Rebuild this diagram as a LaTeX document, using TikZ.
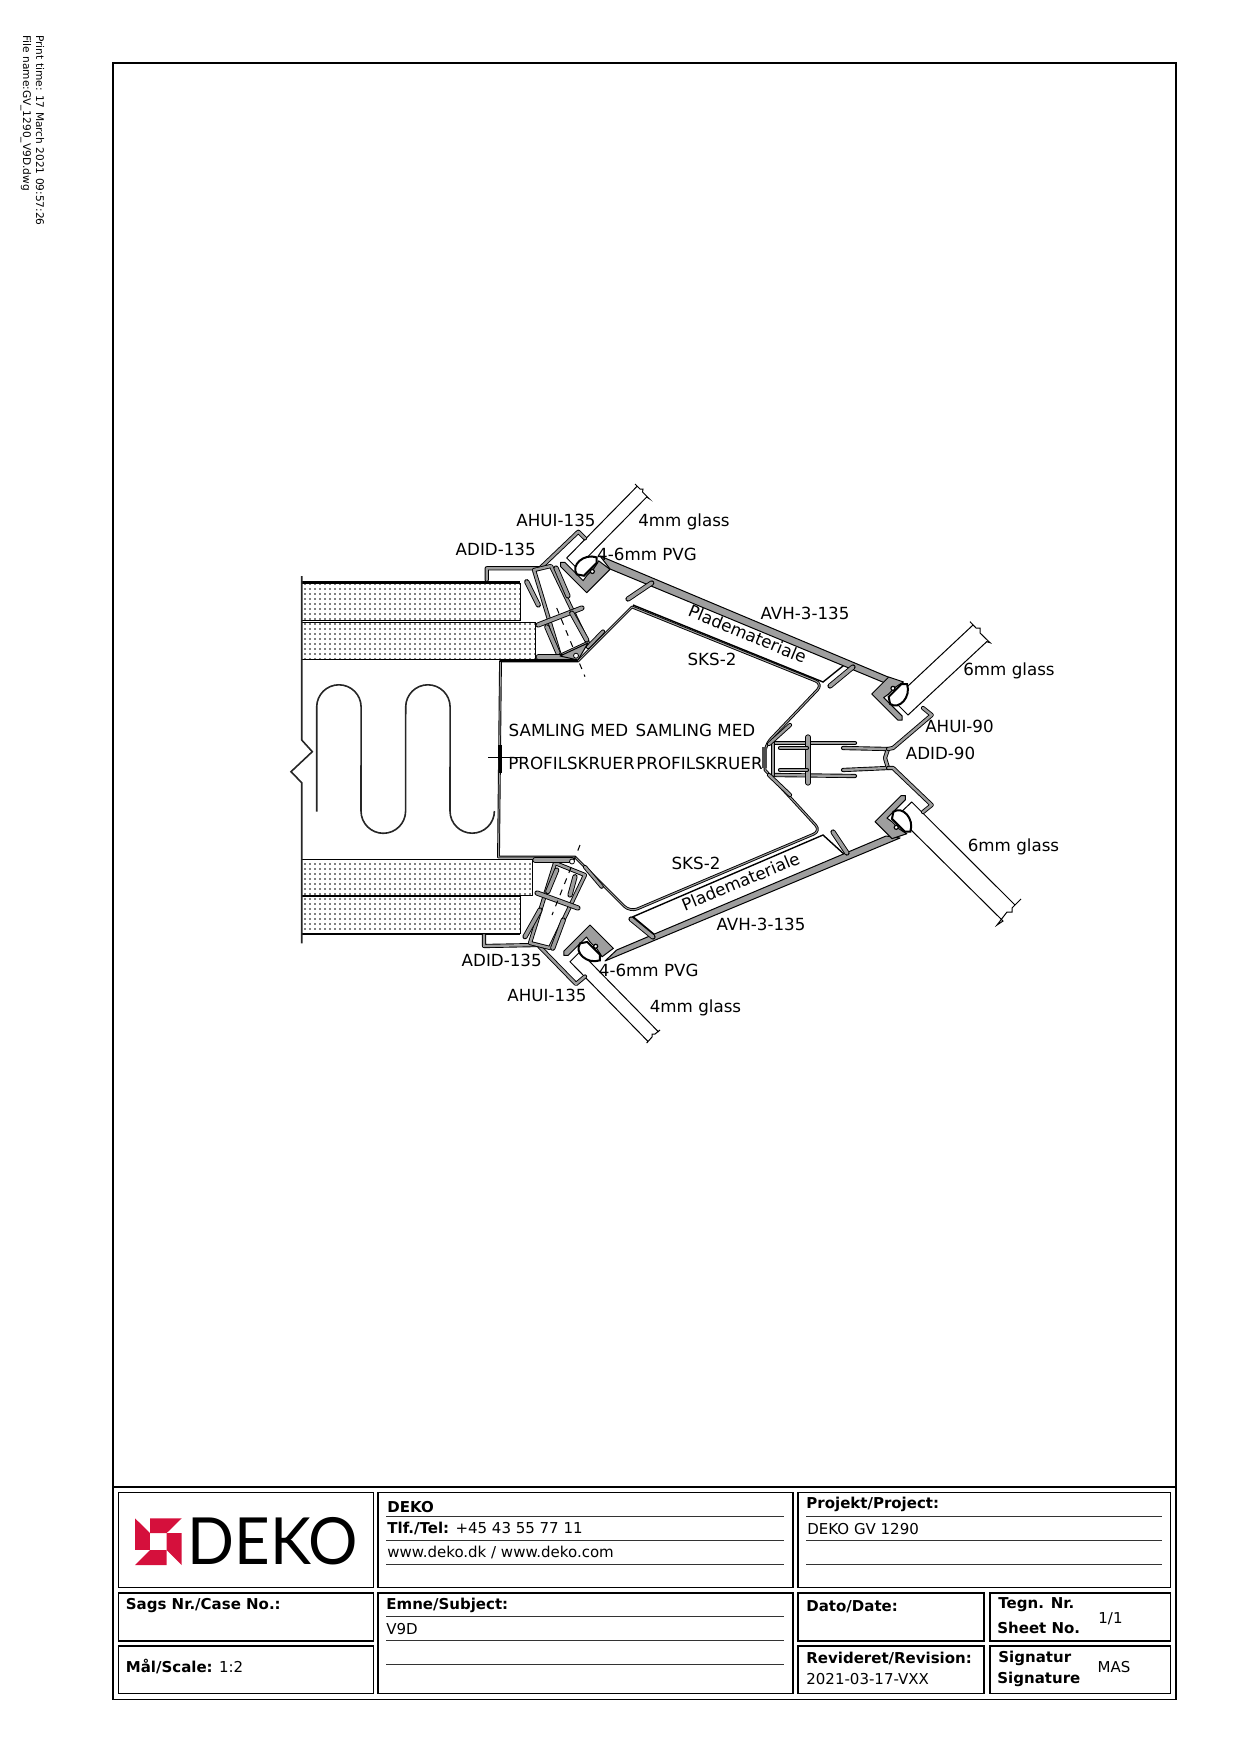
\documentclass[tikz,border=0pt]{standalone}
\usepackage{fontspec}
\setmainfont{DejaVu Sans}
\newfontfamily\logofont{Lato}
\usetikzlibrary{patterns.meta}
\definecolor{profgray}{gray}{0.62}
\definecolor{dekored}{RGB}{213,16,60}
\tikzset{
  lbl/.style={inner sep=0pt,font=\fontsize{8.35}{10}\selectfont},
  ttl/.style={inner sep=0pt,anchor=west,font=\fontsize{7.5}{9}\selectfont},
  ttb/.style={inner sep=0pt,anchor=west,font=\fontsize{7.5}{9}\selectfont\bfseries},
  margin/.style={inner sep=0pt,anchor=west,rotate=-90,font=\fontsize{5.3}{6}\selectfont},
  box/.style={draw=black,line width=0.9pt},
  rule/.style={draw=black!80,line width=0.5pt},
  profile/.style={draw=black,fill=profgray,line width=0.5pt,line join=round},
  profline/.style={draw=black,line width=0.45pt,double=profgray,double distance=1.2pt,line join=round,line cap=round},
  fin/.style={draw=black,line width=0.45pt,double=profgray,double distance=1.7pt,line cap=round},
  sheet/.style={draw=black,line width=0.45pt,double=profgray,double distance=0.5pt,line join=round},
  glass/.style={draw=black,line width=0.5pt,fill=white},
  board/.style={draw=black,line width=0.5pt,pattern={Dots[radius=0.4pt,distance=2.5pt]}},
  pics/glasshook/.style={code={
    \filldraw[profile] (0,0) -- (#1,0) -- (31,-14) -- (27,-13) -- (22,-12) -- (12,-12) -- (6,-11) -- (6,-37) -- (3,-40) -- (0,-37) -- cycle;
    \filldraw[draw=black,fill=white,line width=1pt] (6,-20) .. controls (8,-31) and (26,-30) .. (32,-18) -- (28,-14) -- (10,-14) -- cycle;
    \filldraw[draw=black,fill=white,line width=0.6pt] (19,-11) circle (2);
  }}
}
\begin{document}
\begin{tikzpicture}[x=0.5pt,y=-0.5pt]
\useasboundingbox (0,0) rectangle (1240,1754);

% sheet frame
\draw[box] (113,63) rectangle (1176,1699.5);
\draw[box] (113,1487) -- (1176,1487);
\node[margin] (printtime) at (40,35) {Print time: 17 March 2021 09:57:26};
\node[margin] (filename) at (26,35) {File name:GV\_1290\_V9D.dwg};

% wall
\draw[board] (301.7,583) rectangle (520,620.5);
\draw[board] (301.7,622.5) rectangle (535,659.5);
\draw[board] (301.7,859) rectangle (532.7,895.5);
\draw[board] (301.7,896.5) rectangle (520,933);
\draw[line width=1.3pt] (301.7,582.5) -- (520,582.5);
\draw[line width=1.3pt] (301.7,934) -- (520,934);
\draw[line width=0.8pt,black!85] (301.7,576) -- (301.7,740) -- (312.3,751.7) -- (291,771.7) -- (301.7,782.7) -- (301.7,943.3);
\draw[line width=0.8pt,black!85] (316.7,811.7) -- (316.7,707) arc[start angle=180,end angle=360,radius=22.2] -- (361,811) arc[start angle=180,end angle=0,radius=22.3] -- (405.7,707) arc[start angle=180,end angle=360,radius=22.2] -- (450,811) arc[start angle=180,end angle=0,radius=22.2];

% sks sheet
\draw[sheet] (500.5,661) -- (578,661) -- (632,607) [rounded corners=4pt] -- (823,684) -- (765,745) [sharp corners] -- (765,770) [rounded corners=4pt] -- (821,831) -- (630,912) [sharp corners] -- (575,857) -- (498.5,857) -- cycle;
\draw[line width=1.3pt] (500,660.7) -- (578,660.7);
\draw[line width=0.5pt] (488,757) -- (527,757);
\draw[line width=1.5pt] (500,745) -- (500,772.7);
\fill[black!70] (762,747) rectangle (767,768);

% plates
\draw[line width=0.7pt] (650,583) -- (846.7,663) -- (823,682) -- (633,605);
\draw[line width=0.7pt] (633,916.7) -- (655,935) -- (845,855) -- (823,835) -- cycle;

% glazing bars
\filldraw[profile] (600,556) -- (900,682) -- (885,683) -- (610,569) -- cycle;
\filldraw[profile] (616.7,950) -- (886,836) -- (900,838) -- (605,961) -- cycle;
\draw[fin] (651.7,583) -- (628,599);
\draw[fin] (853,667) -- (830,686);
\draw[fin] (653,937) -- (631,919);
\draw[fin] (847,853) -- (833,832);

% glass panes
\draw[glass] (635,484) -- (640,489) -- (643,489) -- (642.5,492) -- (649,498.5) -- (646.7,497) -- (576.7,568) -- (566.7,558) -- (636.7,486.7);
\draw[glass] (970,621.7) -- (976,628) -- (980,628) -- (980,633) -- (990,642.7) -- (986.7,641.7) -- (908,715) -- (893,700) -- (973,625);
\draw[glass] (646.7,1043) -- (652,1037) -- (652,1034) -- (655,1034) -- (660,1030) -- (658.3,1031.7) -- (580,951.7) -- (570,961.7) -- (648.3,1041.7);
\draw[glass] (1021,899) -- (1012,908) -- (1012,912) -- (1007,912) -- (997,925) -- (1003,921) -- (897,816) -- (911.7,802) -- (1015,905);

% gaskets
\pic[shift={(586.7,592.7)},rotate=45] {glasshook=33};
\pic[shift={(871.7,694)},rotate=45,yscale=-1] {glasshook=24};
\pic[shift={(590,925)},rotate=-45,yscale=-1] {glasshook=33};
\pic[shift={(875,821.7)},rotate=-45] {glasshook=24};

% frame 135 top
\draw[profline] (486.7,580) -- (486.7,568.3) -- (540,568.3) -- (578.3,531.7) -- (585,538.3);
\draw[profline] (534,570) -- (560,656) -- (588,643) -- (551,566) -- cycle;
\draw[fin] (538,625) -- (582,608);
\draw[fin] (526.7,581.7) -- (538.3,605);
\draw[fin] (546.7,626.7) -- (558,653);
\draw[fin] (556,568) -- (568,596);
\draw[fin] (571.7,613) -- (586.7,640);
\draw[line width=0.5pt,dashed] (556.7,608) -- (585,676.7);
\draw[fin] (538.3,657) -- (572,657);
\filldraw[profile] (560,656) -- (588,643) -- (578,660) -- cycle;
\filldraw[draw=black,fill=white,line width=0.4pt] (576,655.7) circle (2.5);
\draw[profline] (588,647) -- (603,631.5);

% frame 135 bottom
\draw[profline] (484,935) -- (484,946) -- (538,945) -- (576,984) -- (585,976.5);
\draw[profline] (555,863) -- (530,943) -- (550,948) -- (585,875) -- cycle;
\draw[fin] (537,893) -- (578,908);
\draw[fin] (556.7,870) -- (547.7,891.7);
\draw[fin] (540,910) -- (525,936.7);
\draw[fin] (575,876.7) -- (570,895);
\draw[fin] (563.3,920) -- (552.7,948.3);
\draw[line width=0.5pt,dashed] (580,845) -- (552,915);
\draw[fin] (535,860) -- (572,860);
\filldraw[draw=black,fill=white,line width=0.4pt] (572,861.5) circle (2.5);
\draw[profline] (585,867) -- (601.7,886.7);

% frame 90
\draw[profline] (773,743) -- (855,743);
\draw[profline] (773,775) -- (855,776);
\draw[profline] (773,743) -- (773,775);
\draw[fin] (808,737) -- (808,783);
\draw[profline] (780,748) -- (807,748);
\draw[profline] (780,770) -- (807,770);
\draw[profline] (843,748) -- (888,749) -- (885,758) -- (888,768) -- (843,770);
\draw[profline] (888,749) -- (893,748) -- (931.7,715) -- (923,708);
\draw[profline] (888,768) -- (893,768) -- (931.7,805) -- (923,812);
\draw[profline] (769,744) -- (790,725);
\draw[profline] (769,775) -- (790,795);

% labels
\node[lbl] (ahuitop) at (556,520) {AHUI-135};
\node[lbl] (adidtop) at (495.7,549) {ADID-135};
\node[lbl] (glasstop) at (684,522) {4mm glass};
\node[lbl] (pvgtop) at (647,554) {4-6mm PVG};
\node[lbl] (avhtop) at (805,613) {AVH-3-135};
\node[lbl,rotate=-22.5] (platetop) at (747.5,634) {Plademateriale};
\node[lbl] (skstop) at (712,659) {SKS-2};
\node[lbl] (samleft) at (568.5,730.5) {SAMLING MED};
\node[lbl] (samright) at (695.5,730.5) {SAMLING MED};
\node[lbl] (profleft) at (571.5,763) {PROFILSKRUER};
\node[lbl] (profright) at (699.5,763) {PROFILSKRUER};
\node[lbl] (glassup) at (1009,671) {6mm glass};
\node[lbl] (ahuiright) at (959.5,726) {AHUI-90};
\node[lbl] (adidright) at (940.5,753) {ADID-90};
\node[lbl] (glassdown) at (1013.5,847) {6mm glass};
\node[lbl] (avhbot) at (761,924) {AVH-3-135};
\node[lbl,rotate=22.5] (platebot) at (740.6,881.5) {Plademateriale};
\node[lbl] (sksbot) at (696,863.5) {SKS-2};
\node[lbl] (adidbot) at (501.7,960) {ADID-135};
\node[lbl] (ahuibot) at (547,995) {AHUI-135};
\node[lbl] (pvgbot) at (648.7,970) {4-6mm PVG};
\node[lbl] (glassbot) at (695.5,1008) {4mm glass};

% title block
\draw[box] (118.5,1492.5) rectangle (373.5,1587.5);
\draw[box] (378,1492.5) rectangle (793,1587.5);
\draw[box] (797.7,1492.5) rectangle (1170.5,1587.5);
\draw[box] (118.5,1593) rectangle (373.5,1640.7);
\draw[box] (118.5,1646) rectangle (373.5,1693.5);
\draw[box] (378,1593) rectangle (793,1693.5);
\draw[box] (797.7,1593) rectangle (984,1640.7);
\draw[box] (990,1593) rectangle (1170.5,1640.7);
\draw[box] (797.7,1646) rectangle (984,1693.5);
\draw[box] (990,1646) rectangle (1170.5,1693.5);
\foreach \yline in {1516,1540,1564} {
  \draw[rule] (386,\yline) -- (784,\yline);
  \draw[rule] (806,\yline) -- (1161.7,\yline);
}
\foreach \yline in {1616.7,1640.7,1664} {
  \draw[rule] (386,\yline) -- (784,\yline);
}

% logo
\fill[dekored] (135,1518.3) -- (150,1533) -- (135,1533) -- cycle;
\fill[dekored] (150,1518.3) -- (181.7,1518.3) -- (166.7,1533) -- (150,1533) -- cycle;
\fill[dekored] (166.7,1533) -- (181.7,1533) -- (181.7,1565) -- (166.7,1550) -- cycle;
\fill[dekored] (135,1565) -- (150,1550) -- (166.7,1550) -- (166.7,1565) -- cycle;
\fill[dekored] (135,1533) rectangle (150,1550);
\node[inner sep=0pt,font=\logofont\fontsize{32.5}{33}\selectfont] (logotext) at (272.8,1541.5) {\scalebox{0.95}[1]{DEKO}};

\node[ttb] (deko) at (387,1507) {DEKO};
\node[ttl] (phone) at (387,1528.7) {\textbf{Tlf./Tel:} +45 43 55 77 11};
\node[ttl] (web) at (387,1552) {www.deko.dk / www.deko.com};
\node[ttb] (caseno) at (125.5,1605.5) {Sags Nr./Case No.:};
\node[ttl] (scale) at (125.5,1667) {\textbf{Mål/Scale:} 1:2};
\node[ttb] (subject) at (386,1605.5) {Emne/Subject:};
\node[ttl] (subjectval) at (386,1629) {V9D};
\node[ttb] (project) at (806,1504) {Projekt/Project:};
\node[ttl] (projectval) at (807,1528.7) {DEKO GV 1290};
\node[ttb] (datelbl) at (806,1607) {Dato/Date:};
\node[ttb] (tegn) at (998,1605) {Tegn. Nr.};
\node[ttb] (sheetno) at (997,1627.7) {Sheet No.};
\node[ttl] (sheetval) at (1098,1619) {1/1};
\node[ttb] (revision) at (806,1658.5) {Revideret/Revision:};
\node[ttl] (revisionval) at (806,1679) {2021-03-17-VXX};
\node[ttb] (signa) at (998,1658.5) {Signatur};
\node[ttb] (signb) at (997,1679) {Signature};
\node[ttl] (signval) at (1097.3,1666.7) {MAS};
\end{tikzpicture}
\end{document}
